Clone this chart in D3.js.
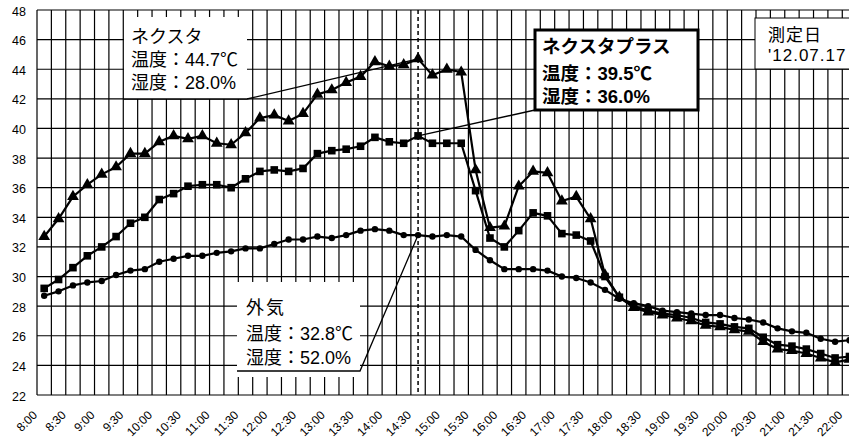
<!DOCTYPE html>
<html><head><meta charset="utf-8">
<script src="https://cdn.jsdelivr.net/npm/d3@7/dist/d3.min.js"></script>
<style>
html,body{margin:0;padding:0;background:#fff;}
svg{display:block;}
</style>
</head><body>
<svg id="c" width="849" height="441"></svg>
<script>
const categories = ["8:00","8:15","8:30","8:45","9:00","9:15","9:30","9:45","10:00","10:15","10:30","10:45","11:00","11:15","11:30","11:45","12:00","12:15","12:30","12:45","13:00","13:15","13:30","13:45","14:00","14:15","14:30","14:45","15:00","15:15","15:30","15:45","16:00","16:15","16:30","16:45","17:00","17:15","17:30","17:45","18:00","18:15","18:30","18:45","19:00","19:15","19:30","19:45","20:00","20:15","20:30","20:45","21:00","21:15","21:30","21:45","22:00"];
const tickLabels = ["8:00","8:30","9:00","9:30","10:00","10:30","11:00","11:30","12:00","12:30","13:00","13:30","14:00","14:30","15:00","15:30","16:00","16:30","17:00","17:30","18:00","18:30","19:00","19:30","20:00","20:30","21:00","21:30","22:00"];
const yTicks = [22,24,26,28,30,32,34,36,38,40,42,44,46,48];
const nexta = [32.7,33.9,35.4,36.2,36.9,37.4,38.3,38.3,39.1,39.5,39.3,39.5,39.0,38.9,39.7,40.7,40.9,40.5,41.0,42.3,42.6,43.1,43.5,44.5,44.2,44.3,44.7,43.6,44.0,43.8,37.2,33.3,33.4,36.1,37.1,37.0,35.1,35.4,33.9,30.1,28.6,27.9,27.6,27.4,27.2,27.0,26.7,26.6,26.4,26.3,25.6,25.1,25.0,24.8,24.5,24.2,24.4];
const nextaPlus = [29.2,29.8,30.6,31.4,32.0,32.7,33.6,34.0,35.2,35.6,36.1,36.2,36.2,36.0,36.6,37.1,37.2,37.1,37.3,38.3,38.5,38.6,38.8,39.4,39.1,39.0,39.5,39.0,39.0,39.0,35.8,32.6,32.0,33.1,34.3,34.1,32.9,32.8,32.4,30.0,28.6,28.0,27.7,27.5,27.4,27.2,26.9,26.8,26.6,26.5,25.9,25.4,25.3,25.1,24.8,24.5,24.6];
const outside = [28.7,29.0,29.4,29.6,29.7,30.1,30.4,30.5,31.0,31.2,31.4,31.4,31.6,31.7,31.9,31.9,32.2,32.5,32.5,32.7,32.6,32.8,33.1,33.2,33.1,32.8,32.8,32.7,32.8,32.7,31.8,31.1,30.5,30.5,30.5,30.4,30.0,29.9,29.6,29.1,28.5,28.2,28.0,27.7,27.6,27.5,27.4,27.4,27.2,27.1,26.9,26.5,26.3,26.2,25.8,25.6,25.7];
const markTime = "14:30";
const calloutNexta = ["ネクスタ","温度：44.7℃","湿度：28.0%"];
const calloutPlus = ["ネクスタプラス","温度：39.5℃","湿度：36.0%"];
const calloutOut = ["外気","温度：32.8℃","湿度：52.0%"];
const dateLines = ["測定日","'12.07.17"];

const svg = d3.select("#c");
const L = 37, T = 10, B = 395, step = 14.38;
const x = d3.scaleBand().domain(categories).range([L, L + categories.length*step]).padding(0);
const y = d3.scaleLinear().domain([22,48]).range([B, T]);
const cx = d => x(d) + x.bandwidth()/2;
const jp = "'Liberation Sans', 'Noto Sans CJK JP', sans-serif";

const g = svg.append("g");
g.selectAll("line.h").data(yTicks).join("line")
  .attr("x1", L).attr("x2", 849).attr("y1", d=>y(d)).attr("y2", d=>y(d))
  .attr("stroke","#000").attr("stroke-width",1.2);
const bounds = categories.map(c => x(c)).concat([x(categories[categories.length-1]) + x.bandwidth()]);
g.selectAll("line.v").data(bounds).join("line")
  .attr("x1", d=>d).attr("x2", d=>d).attr("y1", T).attr("y2", B)
  .attr("stroke","#000").attr("stroke-width",1.2);

const yAxis = d3.axisLeft(y).tickValues(yTicks).tickSize(0).tickPadding(11);
const ya = svg.append("g").attr("transform",`translate(${L},0)`).call(yAxis);
ya.select(".domain").remove();
ya.selectAll("text").attr("font-family","'Liberation Sans', Arial, sans-serif").attr("font-size",12.5).attr("fill","#000").attr("dy","0.4em");

const tickSet = new Set(tickLabels);
svg.append("g").selectAll("text").data(categories.filter(c=>tickSet.has(c))).join("text")
  .attr("transform", d => `translate(${cx(d)-9},413) rotate(-45)`)
  .attr("text-anchor","end").attr("dominant-baseline","central")
  .attr("font-family","'Liberation Sans', Arial, sans-serif").attr("font-size",12).attr("fill","#000")
  .text(d=>d);

svg.append("line").attr("x1",cx(markTime)).attr("x2",cx(markTime)).attr("y1",T).attr("y2",B)
  .attr("stroke","#000").attr("stroke-width",1.5).attr("stroke-dasharray","4,3");

const line = d3.line().x((d,i)=>cx(categories[i])).y(d=>y(d));
[outside, nextaPlus, nexta].forEach(s=>{
  svg.append("path").attr("d", line(s)).attr("fill","none").attr("stroke","#000").attr("stroke-width",2.2).attr("stroke-linejoin","round");
});
svg.append("g").selectAll("circle").data(outside).join("circle")
  .attr("cx",(d,i)=>cx(categories[i])).attr("cy",d=>y(d)).attr("r",3.2).attr("fill","#000");
svg.append("g").selectAll("rect").data(nextaPlus).join("rect")
  .attr("x",(d,i)=>cx(categories[i])-3.8).attr("y",d=>y(d)-3.8).attr("width",7.6).attr("height",7.6).attr("fill","#000");
const tri = d3.symbol().type(d3.symbolTriangle).size(60);
svg.append("g").selectAll("path").data(nexta).join("path")
  .attr("transform",(d,i)=>`translate(${cx(categories[i])},${y(d)})`).attr("d",tri()).attr("fill","#000");

const mi = categories.indexOf(markTime);

function block(lines, x0, ys, size, weight, ls){
  lines.forEach((s,i)=>{
    svg.append("text").attr("font-family",jp).attr("font-size",size)
      .attr("font-weight",weight||"normal").attr("fill","#000")
      .attr("x",x0).attr("y",ys[i])
      .attr("letter-spacing", ls ? ls[i] : 0).text(s);
  });
}

// callout ネクスタ
svg.append("rect").attr("x",124).attr("y",17).attr("width",123).attr("height",82).attr("fill","#fff");
svg.append("polyline").attr("points",`124,99 247,99 ${cx(markTime)},${y(nexta[mi])}`).attr("fill","none").attr("stroke","#000").attr("stroke-width",1.3);
block(calloutNexta, 131, [43,66,89], 18);

// callout 外気
svg.append("rect").attr("x",237).attr("y",282).attr("width",123).attr("height",95).attr("fill","#fff");
svg.append("polyline").attr("points",`237,371 360,371 ${cx(markTime)},${y(outside[mi])}`).attr("fill","none").attr("stroke","#000").attr("stroke-width",1.3);
block(calloutOut, 246, [314,340,364], 18, "normal", [2,0,0]);

// callout ネクスタプラス
svg.append("line").attr("x1",535).attr("y1",110).attr("x2",cx(markTime)).attr("y2",y(nextaPlus[mi])).attr("stroke","#000").attr("stroke-width",1.3);
svg.append("rect").attr("x",535).attr("y",30).attr("width",163).attr("height",80).attr("fill","#fff").attr("stroke","#000").attr("stroke-width",3);
block(calloutPlus, 542, [53,80,103], 18.5, "bold");

// 測定日 box
svg.append("rect").attr("x",755).attr("y",18).attr("width",120).attr("height",51).attr("fill","#fff").attr("stroke","#000").attr("stroke-width",1);
block(dateLines, 768, [41,61], 17, "normal", [1,1]);
</script>
</body></html>
